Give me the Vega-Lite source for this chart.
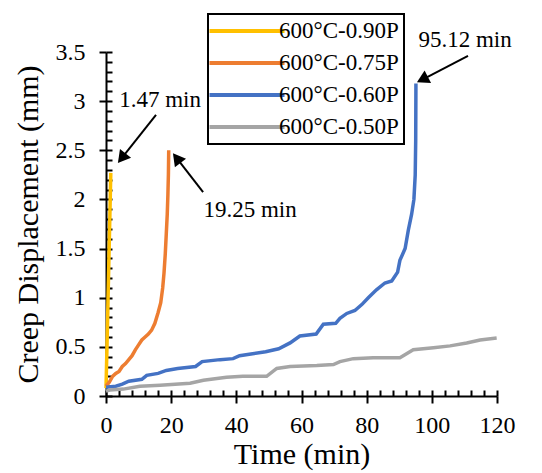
{
  "$schema": "https://vega.github.io/schema/vega-lite/v6.json",
  "width": 391,
  "height": 344,
  "autosize": "none",
  "padding": {"left": 106, "top": 52, "right": 45, "bottom": 77},
  "background": "white",
  "config": {
    "view": {"stroke": null},
    "font": "Liberation Serif",
    "axis": {
      "grid": false,
      "domainColor": "black",
      "domainWidth": 2,
      "tickColor": "black",
      "tickWidth": 2,
      "labelColor": "black",
      "titleColor": "black",
      "labelFont": "Liberation Serif",
      "titleFont": "Liberation Serif",
      "titleFontWeight": "normal",
      "labelFlush": false
    },
    "legend": {"labelFont": "Liberation Serif"}
  },
  "datasets": {
    "curves": [
      {"series": "600°C-0.90P", "t": 0, "d": 0.08},
      {"series": "600°C-0.90P", "t": 0.3, "d": 0.5},
      {"series": "600°C-0.90P", "t": 0.6, "d": 0.95},
      {"series": "600°C-0.90P", "t": 0.9, "d": 1.4},
      {"series": "600°C-0.90P", "t": 1.2, "d": 1.85},
      {"series": "600°C-0.90P", "t": 1.47, "d": 2.27},
      {"series": "600°C-0.75P", "t": 0, "d": 0.1},
      {"series": "600°C-0.75P", "t": 1, "d": 0.14},
      {"series": "600°C-0.75P", "t": 2, "d": 0.2},
      {"series": "600°C-0.75P", "t": 3, "d": 0.23},
      {"series": "600°C-0.75P", "t": 4, "d": 0.25},
      {"series": "600°C-0.75P", "t": 5, "d": 0.3},
      {"series": "600°C-0.75P", "t": 6, "d": 0.33},
      {"series": "600°C-0.75P", "t": 7, "d": 0.37},
      {"series": "600°C-0.75P", "t": 8, "d": 0.41},
      {"series": "600°C-0.75P", "t": 9, "d": 0.47},
      {"series": "600°C-0.75P", "t": 10, "d": 0.52},
      {"series": "600°C-0.75P", "t": 11, "d": 0.57},
      {"series": "600°C-0.75P", "t": 12, "d": 0.6},
      {"series": "600°C-0.75P", "t": 13, "d": 0.63},
      {"series": "600°C-0.75P", "t": 14, "d": 0.67},
      {"series": "600°C-0.75P", "t": 15, "d": 0.74},
      {"series": "600°C-0.75P", "t": 16, "d": 0.85},
      {"series": "600°C-0.75P", "t": 16.8, "d": 0.95},
      {"series": "600°C-0.75P", "t": 17.4, "d": 1.1},
      {"series": "600°C-0.75P", "t": 17.8, "d": 1.25},
      {"series": "600°C-0.75P", "t": 18.2, "d": 1.45},
      {"series": "600°C-0.75P", "t": 18.5, "d": 1.65},
      {"series": "600°C-0.75P", "t": 18.8, "d": 1.85},
      {"series": "600°C-0.75P", "t": 19.0, "d": 2.05},
      {"series": "600°C-0.75P", "t": 19.15, "d": 2.25},
      {"series": "600°C-0.75P", "t": 19.25, "d": 2.5},
      {"series": "600°C-0.60P", "t": 0, "d": 0.09},
      {"series": "600°C-0.60P", "t": 3, "d": 0.1},
      {"series": "600°C-0.60P", "t": 5, "d": 0.12},
      {"series": "600°C-0.60P", "t": 7, "d": 0.15},
      {"series": "600°C-0.60P", "t": 11, "d": 0.17},
      {"series": "600°C-0.60P", "t": 12.5, "d": 0.21},
      {"series": "600°C-0.60P", "t": 16, "d": 0.23},
      {"series": "600°C-0.60P", "t": 18.5, "d": 0.26},
      {"series": "600°C-0.60P", "t": 22, "d": 0.28},
      {"series": "600°C-0.60P", "t": 27.5, "d": 0.3},
      {"series": "600°C-0.60P", "t": 29.5, "d": 0.35},
      {"series": "600°C-0.60P", "t": 35, "d": 0.37},
      {"series": "600°C-0.60P", "t": 39, "d": 0.38},
      {"series": "600°C-0.60P", "t": 41, "d": 0.41},
      {"series": "600°C-0.60P", "t": 45, "d": 0.43},
      {"series": "600°C-0.60P", "t": 49, "d": 0.45},
      {"series": "600°C-0.60P", "t": 53, "d": 0.48},
      {"series": "600°C-0.60P", "t": 56.5, "d": 0.54},
      {"series": "600°C-0.60P", "t": 59.5, "d": 0.61},
      {"series": "600°C-0.60P", "t": 64.5, "d": 0.63},
      {"series": "600°C-0.60P", "t": 66.7, "d": 0.73},
      {"series": "600°C-0.60P", "t": 70.5, "d": 0.74},
      {"series": "600°C-0.60P", "t": 71.8, "d": 0.79},
      {"series": "600°C-0.60P", "t": 73.9, "d": 0.84},
      {"series": "600°C-0.60P", "t": 76.4, "d": 0.87},
      {"series": "600°C-0.60P", "t": 78.5, "d": 0.93},
      {"series": "600°C-0.60P", "t": 80.5, "d": 1.0},
      {"series": "600°C-0.60P", "t": 83, "d": 1.08},
      {"series": "600°C-0.60P", "t": 85.6, "d": 1.15},
      {"series": "600°C-0.60P", "t": 87.7, "d": 1.17},
      {"series": "600°C-0.60P", "t": 89.5, "d": 1.26},
      {"series": "600°C-0.60P", "t": 90.2, "d": 1.38},
      {"series": "600°C-0.60P", "t": 91.8, "d": 1.5},
      {"series": "600°C-0.60P", "t": 92.8, "d": 1.69},
      {"series": "600°C-0.60P", "t": 93.8, "d": 1.85},
      {"series": "600°C-0.60P", "t": 94.5, "d": 2.0},
      {"series": "600°C-0.60P", "t": 94.9, "d": 2.25},
      {"series": "600°C-0.60P", "t": 95.05, "d": 2.6},
      {"series": "600°C-0.60P", "t": 95.12, "d": 3.18},
      {"series": "600°C-0.50P", "t": 0, "d": 0.05},
      {"series": "600°C-0.50P", "t": 1.2, "d": 0.06},
      {"series": "600°C-0.50P", "t": 5.3, "d": 0.07},
      {"series": "600°C-0.50P", "t": 10.4, "d": 0.1},
      {"series": "600°C-0.50P", "t": 16.6, "d": 0.11},
      {"series": "600°C-0.50P", "t": 25.8, "d": 0.13},
      {"series": "600°C-0.50P", "t": 29.9, "d": 0.16},
      {"series": "600°C-0.50P", "t": 37, "d": 0.19},
      {"series": "600°C-0.50P", "t": 42, "d": 0.2},
      {"series": "600°C-0.50P", "t": 49.3, "d": 0.2},
      {"series": "600°C-0.50P", "t": 52.4, "d": 0.28},
      {"series": "600°C-0.50P", "t": 56.5, "d": 0.3},
      {"series": "600°C-0.50P", "t": 64.7, "d": 0.31},
      {"series": "600°C-0.50P", "t": 69.8, "d": 0.32},
      {"series": "600°C-0.50P", "t": 71.8, "d": 0.35},
      {"series": "600°C-0.50P", "t": 75.9, "d": 0.38},
      {"series": "600°C-0.50P", "t": 82, "d": 0.39},
      {"series": "600°C-0.50P", "t": 90.2, "d": 0.39},
      {"series": "600°C-0.50P", "t": 94.3, "d": 0.47},
      {"series": "600°C-0.50P", "t": 100.5, "d": 0.49},
      {"series": "600°C-0.50P", "t": 105.6, "d": 0.51},
      {"series": "600°C-0.50P", "t": 110.7, "d": 0.54},
      {"series": "600°C-0.50P", "t": 114.8, "d": 0.57},
      {"series": "600°C-0.50P", "t": 119.9, "d": 0.59}
    ],
    "arrows": [
      {"t": 15.35, "d": 2.86, "t2": 4.82, "d2": 2.42},
      {"t": 29.8, "d": 2.075, "t2": 21.7, "d2": 2.42},
      {"t": 111.1, "d": 3.46, "t2": 97.1, "d2": 3.22}
    ],
    "notes": [
      {"t": 16.6, "d": 3.01, "label": "1.47 min"},
      {"t": 44.2, "d": 1.89, "label": "19.25 min"},
      {"t": 110.2, "d": 3.62, "label": "95.12 min"}
    ]
  },
  "resolve": {
    "scale": {"x": "independent", "y": "independent"},
    "axis": {"x": "independent", "y": "independent"}
  },
  "layer": [
    {
      "data": {"name": "curves"},
      "mark": {"type": "line", "opacity": 0},
      "encoding": {
        "x": {
          "field": "t", "type": "quantitative",
          "scale": {"domain": [0, 120], "nice": false, "zero": false},
          "axis": {
            "orient": "bottom",
            "title": null,
            "labels": false,
            "domain": false,
            "ticks": true,
            "values": [0, 4, 8, 12, 16, 20, 24, 28, 32, 36, 40, 44, 48, 52, 56, 60, 64, 68, 72, 76, 80, 84, 88, 92, 96, 100, 104, 108, 112, 116, 120],
            "tickSize": -6
          }
        },
        "y": {
          "field": "d", "type": "quantitative",
          "scale": {"domain": [0, 3.5], "nice": false, "zero": false},
          "axis": {
            "orient": "left",
            "title": null,
            "labels": false,
            "domain": false,
            "ticks": true,
            "values": [0, 0.1, 0.2, 0.3, 0.4, 0.5, 0.6, 0.7, 0.8, 0.9, 1, 1.1, 1.2, 1.3, 1.4, 1.5, 1.6, 1.7, 1.8, 1.9, 2, 2.1, 2.2, 2.3, 2.4, 2.5, 2.6, 2.7, 2.8, 2.9, 3, 3.1, 3.2, 3.3, 3.4, 3.5],
            "tickSize": -6
          }
        },
        "detail": {"field": "series"}
      }
    },
    {
      "data": {"name": "curves"},
      "mark": {"type": "line", "strokeWidth": 3.5, "clip": false},
      "encoding": {
        "x": {
          "field": "t", "type": "quantitative",
          "scale": {"domain": [0, 120], "nice": false, "zero": false},
          "axis": {
            "orient": "bottom",
            "title": "Time (min)",
            "values": [0, 20, 40, 60, 80, 100, 120],
            "domain": true,
            "ticks": true,
            "tickSize": 7,
            "labelFontSize": 24,
            "labelPadding": 10,
            "titleFontSize": 30,
            "titlePadding": 2
          }
        },
        "y": {
          "field": "d", "type": "quantitative",
          "scale": {"domain": [0, 3.5], "nice": false, "zero": false},
          "axis": {
            "orient": "left",
            "title": "Creep Displacement (mm)",
            "values": [0, 0.5, 1, 1.5, 2, 2.5, 3, 3.5],
            "format": "~g",
            "domain": true,
            "ticks": true,
            "tickSize": 7,
            "labelFontSize": 24,
            "labelPadding": 14,
            "titleFontSize": 30,
            "titlePadding": 12
          }
        },
        "color": {
          "field": "series", "type": "nominal",
          "scale": {
            "domain": ["600°C-0.90P", "600°C-0.75P", "600°C-0.60P", "600°C-0.50P"],
            "range": ["#FFC000", "#ED7D31", "#4472C4", "#A5A5A5"]
          },
          "legend": {
            "title": null,
            "orient": "none",
            "legendX": 102,
            "legendY": -38,
            "strokeColor": "black",
            "fillColor": "white",
            "padding": 5,
            "rowPadding": 8,
            "symbolType": "M-3.75,0H3.75",
            "symbolSize": 400,
            "symbolStrokeWidth": 4,
            "symbolOffset": 22,
            "labelOffset": 20,
            "labelFont": "Liberation Serif",
            "labelFontSize": 23,
            "labelColor": "black",
            "encode": {
              "legend": {"update": {"strokeWidth": {"value": 2}}}
            }
          }
        },
        "order": {"value": null}
      }
    },
    {
      "data": {"name": "arrows"},
      "mark": {"type": "rule", "color": "black", "strokeWidth": 2, "clip": false},
      "encoding": {
        "x": {"field": "t", "type": "quantitative", "axis": null, "scale": {"domain": [0, 120], "nice": false, "zero": false}},
        "y": {"field": "d", "type": "quantitative", "axis": null, "scale": {"domain": [0, 3.5], "nice": false, "zero": false}},
        "x2": {"field": "t2"},
        "y2": {"field": "d2"}
      }
    },
    {
      "data": {"name": "arrows"},
      "transform": [
        {"calculate": "(atan2((datum.t2 - datum.t) * 3.258, (datum.d2 - datum.d) * 98.3) * 180 / PI + 360) % 360", "as": "ang"}
      ],
      "mark": {"type": "point", "shape": "triangle-up", "filled": true, "color": "black", "opacity": 1, "size": 200, "clip": false},
      "encoding": {
        "x": {"field": "t2", "type": "quantitative", "axis": null, "scale": {"domain": [0, 120], "nice": false, "zero": false}},
        "y": {"field": "d2", "type": "quantitative", "axis": null, "scale": {"domain": [0, 3.5], "nice": false, "zero": false}},
        "angle": {"field": "ang", "type": "quantitative", "scale": null}
      }
    },
    {
      "data": {"name": "notes"},
      "mark": {"type": "text", "fontSize": 23, "font": "Liberation Serif", "color": "black", "align": "center", "baseline": "middle", "clip": false},
      "encoding": {
        "x": {"field": "t", "type": "quantitative", "axis": null, "scale": {"domain": [0, 120], "nice": false, "zero": false}},
        "y": {"field": "d", "type": "quantitative", "axis": null, "scale": {"domain": [0, 3.5], "nice": false, "zero": false}},
        "text": {"field": "label", "type": "nominal"}
      }
    }
  ]
}
